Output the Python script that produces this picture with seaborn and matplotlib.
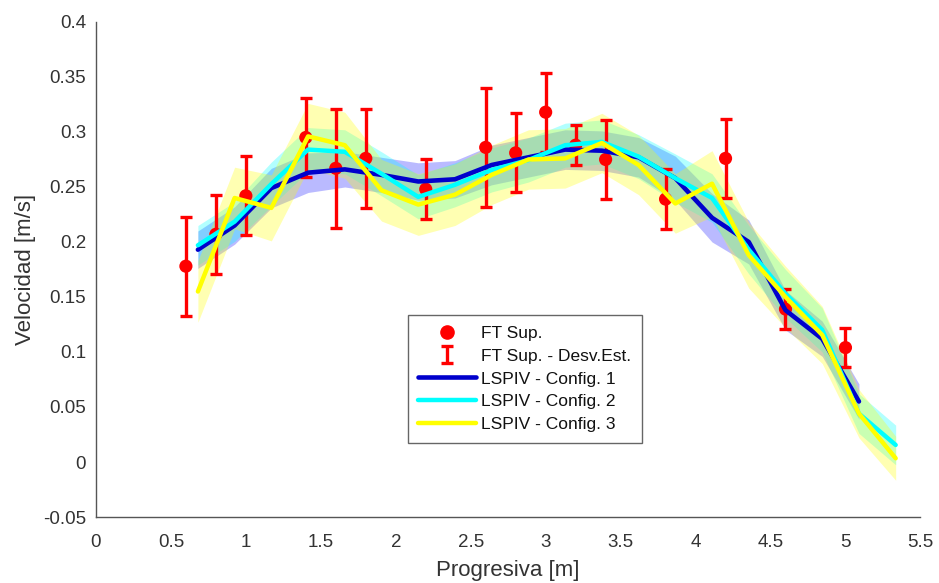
import numpy as np
import pandas as pd
import matplotlib
matplotlib.use("Agg")
import matplotlib.pyplot as plt
import seaborn as sns
from matplotlib.lines import Line2D

# ---- data ----
x_ft = [0.6, 0.8, 1.0, 1.4, 1.6, 1.8, 2.2, 2.6, 2.8, 3.0, 3.2, 3.4, 3.8, 4.2, 4.6, 5.0]
v_ft = [0.178, 0.207, 0.242, 0.295, 0.267, 0.276, 0.248, 0.286, 0.281, 0.318,
        0.288, 0.275, 0.239, 0.276, 0.139, 0.104]
sd_ft = [0.045, 0.036, 0.036, 0.036, 0.054, 0.045, 0.027, 0.054, 0.036, 0.036,
         0.018, 0.036, 0.027, 0.036, 0.018, 0.018]

x_piv = [0.68, 0.925, 1.17, 1.415, 1.66, 1.905, 2.15, 2.395, 2.64, 2.885,
         3.13, 3.375, 3.62, 3.865, 4.11, 4.355, 4.60, 4.845, 5.09, 5.335]

v_cfg1 = [0.193, 0.215, 0.249, 0.263, 0.266, 0.261, 0.255, 0.257, 0.270, 0.277,
          0.284, 0.283, 0.277, 0.258, 0.222, 0.200, 0.138, 0.112, 0.055]
sd_cfg1 = [0.017, 0.017, 0.018, 0.018, 0.016, 0.016, 0.017, 0.017, 0.018, 0.018,
           0.018, 0.018, 0.018, 0.020, 0.022, 0.020, 0.018, 0.016, 0.016]

v_cfg2 = [0.197, 0.2185, 0.2527, 0.284, 0.282, 0.262, 0.241, 0.252, 0.2655, 0.2745,
          0.288, 0.291, 0.2776, 0.258, 0.240, 0.193, 0.153, 0.120, 0.044, 0.0155]
sd_cfg2 = [0.018, 0.018, 0.020, 0.020, 0.020, 0.020, 0.020, 0.020, 0.020, 0.020,
           0.020, 0.020, 0.020, 0.022, 0.022, 0.022, 0.022, 0.020, 0.018, 0.018]

v_cfg3 = [0.155, 0.240, 0.231, 0.296, 0.288, 0.247, 0.234, 0.243, 0.261, 0.275,
          0.276, 0.290, 0.270, 0.235, 0.253, 0.188, 0.150, 0.1155, 0.044, 0.0034]
sd_cfg3 = [0.028, 0.028, 0.030, 0.030, 0.030, 0.028, 0.028, 0.028, 0.027, 0.027,
           0.027, 0.027, 0.027, 0.027, 0.030, 0.030, 0.028, 0.026, 0.022, 0.020]

labels = ["FT Sup.", "FT Sup. - Desv.Est.", "LSPIV - Config. 1",
          "LSPIV - Config. 2", "LSPIV - Config. 3"]
x_ticks = [0, 0.5, 1, 1.5, 2, 2.5, 3, 3.5, 4, 4.5, 5, 5.5]
y_ticks = [-0.05, 0, 0.05, 0.1, 0.15, 0.2, 0.25, 0.3, 0.35, 0.4]

# ---- style ----
sns.set_style("white")
plt.rcParams['font.family'] = ['Liberation Sans', 'DejaVu Sans']

fig = plt.figure(figsize=(9.39, 5.83), dpi=100)
ax = fig.add_axes([0.1022, 0.1132, 0.8780, 0.8491])

axis_col = '#555555'
txt_col = '#333333'

series = [
    (x_piv[:len(v_cfg1)], v_cfg1, sd_cfg1, '#0000cc', '#3030ff', 0.33, 3.3),
    (x_piv, v_cfg2, sd_cfg2, '#00ffff', '#00ffff', 0.30, 3.2),
    (x_piv, v_cfg3, sd_cfg3, '#ffff00', '#ffff00', 0.30, 3.2),
]
# bands
for xs, vs, ss, lc, bc, a, lw in series:
    vs = np.array(vs); ss = np.array(ss)
    ax.fill_between(xs, vs - ss, vs + ss, color=bc, alpha=a, linewidth=0, zorder=2)

# field measurements
eb = ax.errorbar(x_ft, v_ft, yerr=sd_ft, fmt='none', ecolor='#ff0000',
                 elinewidth=2.4, capsize=4.5, capthick=2.4, zorder=3)
sns.scatterplot(x=x_ft, y=v_ft, ax=ax, color='#ff0000', s=90,
                edgecolor='none', zorder=4, legend=False)

# lines
for xs, vs, ss, lc, bc, a, lw in series:
    df = pd.DataFrame({"x": xs, "v": vs})
    sns.lineplot(data=df, x="x", y="v", ax=ax, color=lc, linewidth=lw,
                 zorder=5, legend=False, sort=False)

ax.set_xlim(0, 5.5)
ax.set_ylim(-0.05, 0.4)
ax.set_xticks(x_ticks)
ax.set_xticklabels(["%g" % t for t in x_ticks])
ax.set_yticks(y_ticks)
ax.set_yticklabels(["%g" % t for t in y_ticks])
ax.tick_params(direction='in', length=5, width=1, colors=axis_col,
               labelcolor=txt_col, labelsize=13.5)
ax.tick_params(axis='x', pad=12)
ax.tick_params(axis='y', pad=7)
for s in ['top', 'right']:
    ax.spines[s].set_visible(False)
for s in ['left', 'bottom']:
    ax.spines[s].set_color(axis_col)
    ax.spines[s].set_linewidth(1)

ax.set_xlabel("Progresiva [m]", fontsize=16, color=txt_col, labelpad=7)
ax.set_ylabel("Velocidad [m/s]", fontsize=16, color=txt_col, labelpad=5)

# legend
h_dot = Line2D([], [], marker='o', linestyle='none', color='#ff0000', markersize=9.5)
h1 = Line2D([], [], color='#0000cc', linewidth=3.3)
h2 = Line2D([], [], color='#00ffff', linewidth=3.2)
h3 = Line2D([], [], color='#ffff00', linewidth=3.2)
leg = ax.legend([h_dot, eb, h1, h2, h3], labels, loc='upper left',
                bbox_to_anchor=(0.378, 0.408), borderaxespad=0,
                fontsize=12.5, handlelength=3.35, handletextpad=0.3,
                labelspacing=0.45, borderpad=0.6, frameon=True,
                fancybox=False, framealpha=1, edgecolor='#666666')
leg.get_frame().set_linewidth(1.0)
for t in leg.get_texts():
    t.set_color('#111111')

fig.savefig("out.png", dpi=100)
